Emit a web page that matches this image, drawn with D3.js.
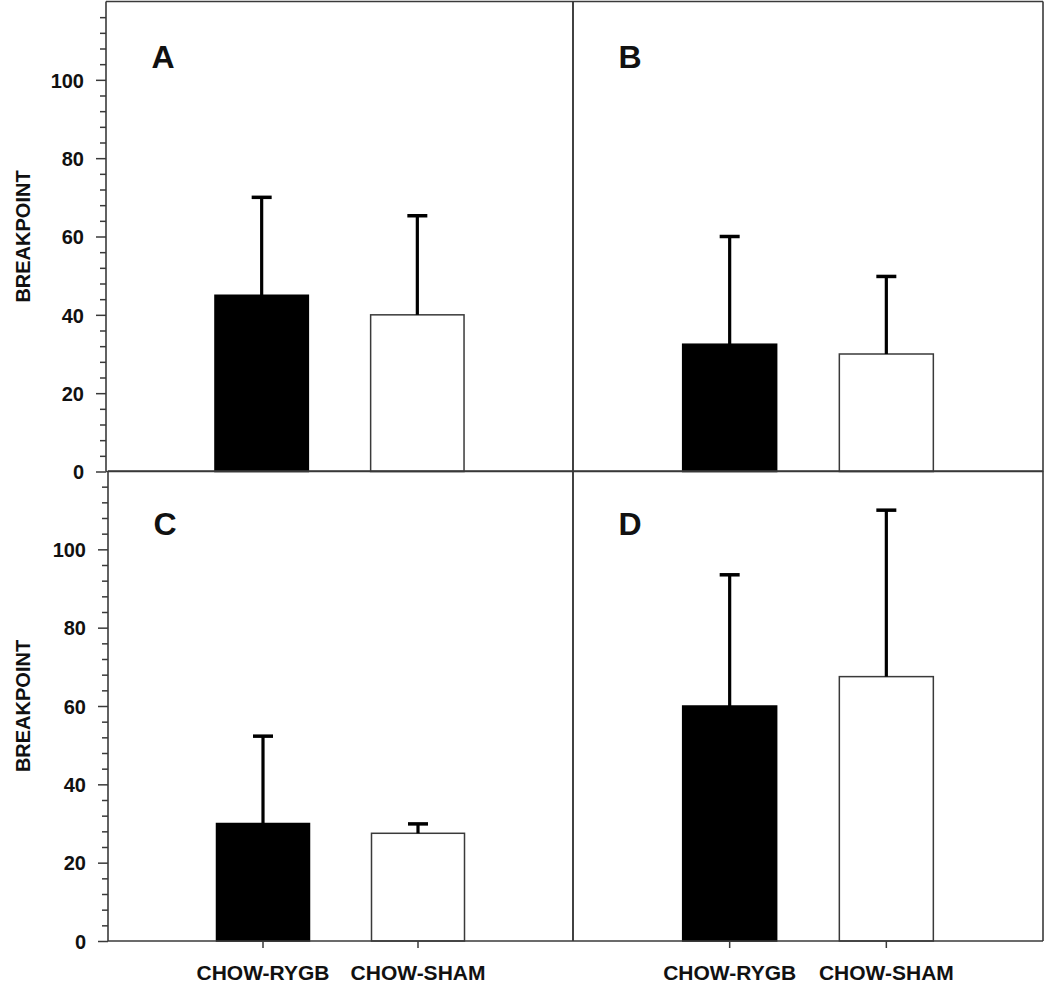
<!DOCTYPE html>
<html>
<head>
<meta charset="utf-8">
<script src="https://cdn.jsdelivr.net/npm/d3@7"></script>
<style>
  body { margin: 0; background: #fff; }
  svg { display: block; }
  text { font-family: "Liberation Sans", Arial, sans-serif; font-weight: bold; fill: #111; }
</style>
</head>
<body>
<svg id="chart" width="1050" height="996"></svg>
<script>
// ---- data ----
const categories = ["CHOW-RYGB", "CHOW-SHAM"];
const panelLabels = ["A", "B", "C", "D"];
const meansA = [45, 40];
const meansB = [32.5, 30];
const meansC = [30, 27.5];
const meansD = [60, 67.5];
const errA = [25, 25.3];
const errB = [27.5, 19.8];
const errC = [22.3, 2.4];
const errD = [33.5, 42.5];
const yTickLabels = [0, 20, 40, 60, 80, 100];
const yAxisTitle = "BREAKPOINT";
const fills = ["#000000", "#ffffff"];

const panels = [
  { label: panelLabels[0], means: meansA, errs: errA, x0: 106, x1: 573, y0: 1.5, y1: 471.5, left: true, bottom: false },
  { label: panelLabels[1], means: meansB, errs: errB, x0: 573, x1: 1043, y0: 1.5, y1: 471.5, left: false, bottom: false },
  { label: panelLabels[2], means: meansC, errs: errC, x0: 108, x1: 573, y0: 471, y1: 941, left: true, bottom: true },
  { label: panelLabels[3], means: meansD, errs: errD, x0: 573, x1: 1043, y0: 471, y1: 941, left: false, bottom: true }
];

const svg = d3.select("#chart");
const lineColor = "#3a3a3a";

panels.forEach(p => {
  const g = svg.append("g");
  const x = d3.scaleBand().domain(categories).range([p.x0, p.x1])
    .paddingInner(0.4).paddingOuter(0.7);
  const y = d3.scaleLinear().domain([0, 120]).range([p.y1, p.y0]);

  // bars
  categories.forEach((c, i) => {
    g.append("rect")
      .attr("x", x(c)).attr("width", x.bandwidth())
      .attr("y", y(p.means[i])).attr("height", y(0) - y(p.means[i]))
      .attr("fill", fills[i]).attr("stroke", i === 0 ? "#000" : lineColor)
      .attr("stroke-width", 1.5);
    const cx = x(c) + x.bandwidth() / 2;
    const top = y(p.means[i] + p.errs[i]);
    g.append("line").attr("x1", cx).attr("x2", cx)
      .attr("y1", y(p.means[i])).attr("y2", top)
      .attr("stroke", "#000").attr("stroke-width", 3.2);
    g.append("line").attr("x1", cx - 10).attr("x2", cx + 10)
      .attr("y1", top).attr("y2", top)
      .attr("stroke", "#000").attr("stroke-width", 3.5);
  });

  // frame lines
  g.append("line").attr("x1", p.x0).attr("x2", p.x1).attr("y1", p.y1).attr("y2", p.y1)
    .attr("stroke", lineColor).attr("stroke-width", 1.6);
  g.append("line").attr("x1", p.x0).attr("x2", p.x1).attr("y1", p.y0).attr("y2", p.y0)
    .attr("stroke", lineColor).attr("stroke-width", 1.6);
  g.append("line").attr("x1", p.x1).attr("x2", p.x1).attr("y1", p.y0).attr("y2", p.y1)
    .attr("stroke", lineColor).attr("stroke-width", 1.6);
  g.append("line").attr("x1", p.x0).attr("x2", p.x0).attr("y1", p.y0).attr("y2", p.y1)
    .attr("stroke", lineColor).attr("stroke-width", 1.6);

  // panel letter
  g.append("text").attr("x", p.x0 + 57).attr("y", (p.left ? p.y0 : p.y0) + (p.bottom ? 64 : 66))
    .attr("text-anchor", "middle").attr("font-size", 32).text(p.label);

  if (p.left) {
    const ticks = d3.range(0, 117, 4);
    const ax = d3.axisLeft(y).tickValues(ticks).tickSizeOuter(0)
      .tickFormat(d => (yTickLabels.includes(d) && !(p.bottom === false && d === 0 && false)) ? d : "");
    const axg = g.append("g").attr("transform", `translate(${p.x0},0)`).call(ax);
    axg.select(".domain").remove();
    axg.selectAll(".tick line")
      .attr("stroke", lineColor).attr("stroke-width", 1.5)
      .attr("x2", d => yTickLabels.includes(d) ? -10 : -6);
    axg.selectAll(".tick text")
      .attr("x", -22).attr("dy", "0.36em")
      .style("font-family", '"Liberation Sans", Arial, sans-serif')
      .style("font-weight", "bold").style("font-size", "20px").attr("fill", "#111");
    g.append("text")
      .attr("transform", `translate(30,${(p.y0 + p.y1) / 2}) rotate(-90)`)
      .attr("text-anchor", "middle").attr("font-size", 20).text(yAxisTitle);
  }

  if (p.bottom) {
    const axb = d3.axisBottom(x).tickSizeOuter(0).tickSize(7).tickPadding(17);
    const bg = g.append("g").attr("transform", `translate(0,${p.y1})`).call(axb);
    bg.select(".domain").remove();
    bg.selectAll(".tick line").attr("stroke", lineColor).attr("stroke-width", 1.5);
    bg.selectAll(".tick text")
      .style("font-family", '"Liberation Sans", Arial, sans-serif')
      .style("font-weight", "bold").style("font-size", "21px").attr("fill", "#111");
  }
});
</script>
</body>
</html>
